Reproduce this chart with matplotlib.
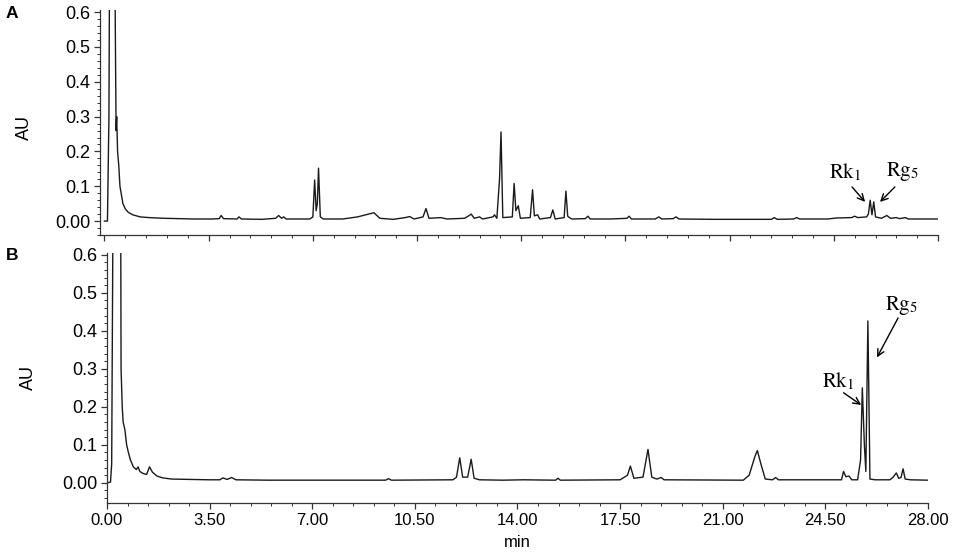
import matplotlib.pyplot as plt
from matplotlib.ticker import FixedLocator, FixedFormatter, MultipleLocator

plt.rcParams['font.family'] = ['Liberation Sans', 'DejaVu Sans']
plt.rcParams['mathtext.fontset'] = 'stix'

# --- data (retention time in min, absorbance in AU) ---
time_a = [0.00, 0.10, 0.15, 0.18, 0.33, 0.36, 0.39, 0.41, 0.44, 0.48, 0.52, 0.56,
          0.62, 0.70, 0.80, 0.95, 1.2, 1.5, 2.0, 2.5, 3.0, 3.6, 3.85, 3.92, 4.0,
          4.45, 4.52, 4.6, 5.3, 5.75, 5.85, 5.95, 6.02, 6.1, 6.9, 7.0, 7.06, 7.11,
          7.15, 7.19, 7.25, 7.35, 8.0, 8.5, 9.05, 9.25, 9.7, 10.1, 10.25, 10.4,
          10.7, 10.8, 10.9, 11.3, 11.5, 12.1, 12.25, 12.32, 12.42, 12.6, 12.7,
          13.05, 13.1, 13.18, 13.27, 13.32, 13.38, 13.7, 13.76, 13.82, 13.9, 13.97,
          14.3, 14.38, 14.44, 14.55, 14.62, 14.98, 15.06, 15.14, 15.44, 15.5, 15.56,
          15.62, 15.7, 16.15, 16.24, 16.32, 17.0, 17.55, 17.62, 17.7, 18.5, 18.62,
          18.72, 19.1, 19.2, 19.3, 20.5, 22.4, 22.5, 22.6, 23.15, 23.25, 23.35,
          24.3, 24.6, 25.1, 25.2, 25.3, 25.6, 25.66, 25.72, 25.78, 25.84, 25.9,
          26.1, 26.28, 26.4, 26.6, 26.7, 26.9, 27.0, 28.0]
au_a = [0.000, 0.000, 0.30, 0.95, 0.95, 0.60, 0.26, 0.30, 0.20, 0.16, 0.10, 0.08,
        0.05, 0.035, 0.025, 0.018, 0.012, 0.010, 0.008, 0.007, 0.006, 0.006, 0.007,
        0.016, 0.007, 0.006, 0.012, 0.006, 0.005, 0.008, 0.016, 0.008, 0.012, 0.006,
        0.006, 0.012, 0.118, 0.030, 0.050, 0.152, 0.012, 0.006, 0.006, 0.012, 0.024,
        0.008, 0.005, 0.010, 0.013, 0.006, 0.012, 0.036, 0.008, 0.010, 0.006, 0.008,
        0.016, 0.020, 0.008, 0.012, 0.006, 0.012, 0.018, 0.008, 0.120, 0.256, 0.010,
        0.012, 0.108, 0.030, 0.044, 0.008, 0.010, 0.090, 0.015, 0.018, 0.006, 0.010,
        0.032, 0.006, 0.010, 0.086, 0.014, 0.010, 0.006, 0.007, 0.014, 0.006, 0.006,
        0.008, 0.014, 0.006, 0.006, 0.012, 0.006, 0.007, 0.012, 0.006, 0.005, 0.005,
        0.010, 0.005, 0.006, 0.010, 0.006, 0.006, 0.009, 0.010, 0.014, 0.010, 0.012,
        0.020, 0.060, 0.018, 0.055, 0.012, 0.008, 0.016, 0.008, 0.010, 0.007, 0.010,
        0.006, 0.006]

time_b = [0.00, 0.12, 0.16, 0.18, 0.22, 0.46, 0.48, 0.52, 0.55, 0.61, 0.67, 0.73,
          0.80, 0.90, 1.00, 1.06, 1.12, 1.22, 1.35, 1.45, 1.55, 1.7, 1.9, 2.2, 2.8,
          3.5, 3.85, 3.95, 4.1, 4.25, 4.4, 5.5, 7.0, 9.5, 9.6, 9.7, 11.8, 11.92,
          12.03, 12.13, 12.3, 12.42, 12.52, 12.7, 13.5, 14.2, 15.3, 15.38, 15.46,
          17.5, 17.75, 17.85, 17.97, 18.28, 18.45, 18.58, 18.75, 18.9, 19.0, 21.7,
          21.9, 22.1, 22.18, 22.3, 22.45, 22.7, 22.8, 22.9, 25.05, 25.12, 25.2,
          25.3, 25.4, 25.6, 25.7, 25.76, 25.83, 25.88, 25.95, 26.02, 26.2, 26.7,
          26.8, 26.92, 27.0, 27.08, 27.15, 27.22, 27.4, 28.0]
au_b = [0.000, 0.002, 0.050, 0.350, 0.950, 0.950, 0.300, 0.200, 0.160, 0.140,
        0.100, 0.080, 0.060, 0.042, 0.035, 0.042, 0.030, 0.025, 0.022, 0.042,
        0.028, 0.018, 0.013, 0.010, 0.009, 0.008, 0.008, 0.013, 0.009, 0.014,
        0.008, 0.007, 0.007, 0.007, 0.011, 0.007, 0.008, 0.015, 0.066, 0.015,
        0.015, 0.062, 0.012, 0.008, 0.007, 0.008, 0.007, 0.012, 0.007, 0.008,
        0.020, 0.044, 0.012, 0.015, 0.088, 0.015, 0.010, 0.014, 0.008, 0.007,
        0.020, 0.070, 0.085, 0.050, 0.010, 0.008, 0.014, 0.008, 0.008, 0.030,
        0.016, 0.018, 0.008, 0.008, 0.060, 0.250, 0.100, 0.030, 0.426, 0.010,
        0.008, 0.008, 0.014, 0.026, 0.012, 0.014, 0.037, 0.010, 0.008, 0.007]

x_ticks = [0.0, 3.5, 7.0, 10.5, 14.0, 17.5, 21.0, 24.5, 28.0]
x_labels = ['0.00', '3.50', '7.00', '10.50', '14.00', '17.50', '21.00', '24.50', '28.00']
y_ticks = [0.0, 0.1, 0.2, 0.3, 0.4, 0.5, 0.6]
y_labels = ['0.00', '0.1', '0.2', '0.3', '0.4', '0.5', '0.6']

# annotation: label, text position, arrow tail, arrow head (data coords)
notes_a = [(r'Rk$_1$', (24.87, 0.141), (25.11, 0.098), (25.55, 0.055)),
           (r'Rg$_5$', (26.82, 0.141), (26.55, 0.098), (26.05, 0.055))]
notes_b = [(r'Rk$_1$', (24.93, 0.266), (25.12, 0.237), (25.72, 0.205)),
           (r'Rg$_5$', (27.11, 0.468), (26.98, 0.434), (26.26, 0.33))]


def style_axis(ax, xlim, ylim, show_xlabels):
    ax.set_xlim(*xlim)
    ax.set_ylim(*ylim)
    for side in ['top', 'right']:
        ax.spines[side].set_visible(False)
    for side in ['left', 'bottom']:
        ax.spines[side].set_color('#333333')
        ax.spines[side].set_linewidth(0.9)
    ax.xaxis.set_major_locator(FixedLocator(x_ticks))
    ax.xaxis.set_minor_locator(MultipleLocator(0.7))
    ax.yaxis.set_major_locator(FixedLocator(y_ticks))
    ax.yaxis.set_major_formatter(FixedFormatter(y_labels))
    ax.yaxis.set_minor_locator(MultipleLocator(0.02))
    if show_xlabels:
        ax.xaxis.set_major_formatter(FixedFormatter(x_labels))
    else:
        ax.set_xticklabels([])
    ax.tick_params(which='major', direction='out', length=4, width=0.9,
                   color='#333333', pad=3)
    ax.tick_params(axis='y', which='major', labelsize=13)
    ax.tick_params(axis='x', which='major', labelsize=12)
    ax.tick_params(which='minor', direction='out', length=2, width=0.7, color='#333333')
    ax.set_ylabel('AU', fontsize=13)


def add_notes(ax, notes):
    for label, text_xy, tail, head in notes:
        ax.text(text_xy[0], text_xy[1], label, fontsize=15, family='STIXGeneral',
                ha='center', va='center')
        ax.annotate('', xy=head, xytext=tail,
                    arrowprops=dict(arrowstyle='->', color='black', lw=1.0,
                                    shrinkA=0, shrinkB=0, mutation_scale=12))


fig = plt.figure(figsize=(9.57, 5.54), dpi=100)
ax_a = fig.add_axes([0.1045, 0.5758, 0.8757, 0.406])
ax_b = fig.add_axes([0.1118, 0.0921, 0.8579, 0.4513])

ax_a.plot(time_a, au_a, color='#1a1a1a', lw=1.0)
style_axis(ax_a, (-0.15, 28.0), (-0.04, 0.606), False)
ax_a.yaxis.set_label_coords(-0.08, 0.48)
add_notes(ax_a, notes_a)

ax_b.plot(time_b, au_b, color='#1a1a1a', lw=1.0)
style_axis(ax_b, (0.0, 28.0), (-0.053, 0.605), True)
ax_b.yaxis.set_label_coords(-0.085, 0.5)
ax_b.set_xlabel('min', fontsize=12)
ax_b.xaxis.set_label_coords(0.5, -0.13)
add_notes(ax_b, notes_b)

fig.text(0.006, 1 - 14 / 554, 'A', fontsize=12.5, fontweight='bold', va='center')
fig.text(0.006, 1 - 255 / 554, 'B', fontsize=12.5, fontweight='bold', va='center')

plt.savefig('out.png', dpi=100)
plt.close(fig)
